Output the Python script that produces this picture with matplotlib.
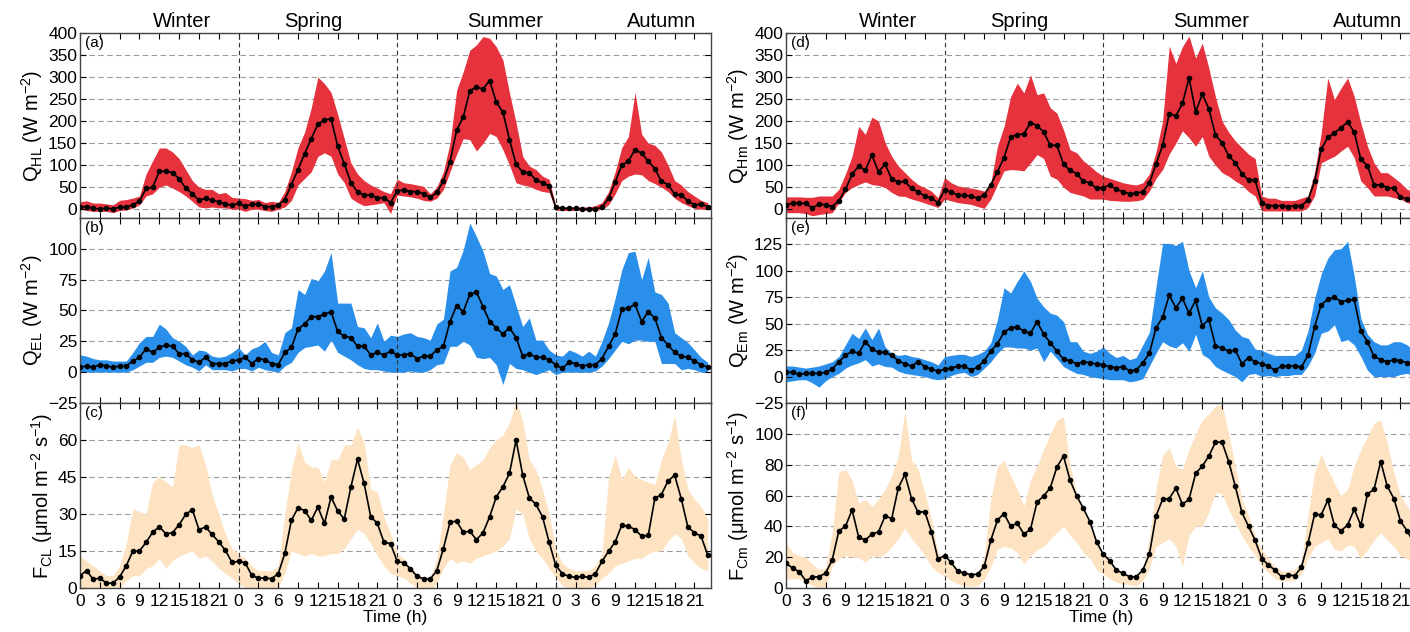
import matplotlib
matplotlib.use('Agg')
import matplotlib.pyplot as plt
import numpy as np

plt.rcParams['font.family'] = ['Liberation Sans', 'DejaVu Sans']
plt.rcParams['mathtext.default'] = 'regular'

hours = np.arange(96)
seasons = ['Winter', 'Spring', 'Summer', 'Autumn']
season_x = [15.5, 35.3, 64.3, 88.0]
hour_ticks = np.arange(0, 96, 3)
hour_labels = [str(h % 24) for h in hour_ticks]

# ---- (a) Q_HL ----
qhl_mean = [5, 6, 2, 0, 3, 0, 5, 5, 10, 18, 47, 50, 86, 86, 83, 69, 48, 35, 20, 25, 20, 17, 12, 9,
            13, 7, 11, 12, 6, 6, 9, 22, 56, 90, 126, 160, 193, 203, 205, 143, 103, 60, 39, 32, 32, 26, 26, 15,
            41, 44, 40, 40, 35, 27, 38, 64, 108, 179, 209, 269, 277, 273, 292, 243, 221, 158, 102, 84, 83, 66, 60, 53,
            4, 2, 2, 2, 0, 0, 0, 4, 25, 62, 100, 109, 135, 127, 109, 92, 63, 56, 34, 32, 19, 9, 12, 6]
qhl_hi = [17, 19, 14, 14, 12, 10, 20, 22, 25, 30, 80, 110, 139, 139, 130, 115, 90, 65, 50, 45, 45, 35, 38, 27,
          25, 24, 20, 22, 15, 18, 15, 40, 85, 140, 175, 230, 300, 285, 265, 215, 160, 105, 80, 65, 55, 48, 40, 35,
          68, 60, 58, 55, 52, 35, 50, 85, 150, 270, 312, 361, 373, 392, 388, 369, 339, 264, 196, 120, 98, 90, 75, 68,
          8, 5, 5, 5, 5, 5, 8, 15, 40, 85, 140, 165, 265, 170, 150, 145, 130, 100, 65, 55, 40, 30, 20, 15]
qhl_lo = [0, -3, -5, -5, -5, -8, -3, -2, 3, 10, 30, 35, 50, 55, 48, 40, 30, 18, 5, 3, 5, 3, 3, 0,
          0, -5, 0, 0, -3, -5, 0, 5, 20, 55, 70, 85, 120, 128, 120, 80, 60, 25, 15, 8, 10, 12, 15, -10,
          32, 30, 28, 25, 20, 18, 25, 45, 85, 125, 160, 158, 132, 150, 172, 165, 135, 100, 60, 55, 52, 45, 40, 38,
          -2, -3, -3, -3, -3, -3, -3, 0, 10, 35, 65, 75, 80, 78, 65, 58, 50, 40, 25, 15, 8, 2, 0, 0]

# ---- (b) Q_EL ----
qel_mean = [4, 5, 4, 6, 5, 4, 5, 5, 9, 12, 19, 16, 20, 22, 21, 15, 15, 10, 8, 12, 7, 7, 7, 9,
            10, 12, 7, 11, 10, 7, 6, 16, 20, 35, 39, 45, 45, 47, 49, 33, 29, 28, 21, 21, 14, 16, 14, 17,
            14, 14, 15, 11, 13, 13, 18, 21, 41, 54, 49, 63, 65, 53, 41, 36, 31, 36, 28, 13, 15, 12, 12, 10,
            6, 3, 8, 7, 5, 6, 6, 11, 21, 31, 51, 52, 55, 41, 49, 44, 28, 22, 16, 13, 12, 9, 6, 4]
qel_hi = [14, 13, 11, 10, 10, 9, 9, 9, 16, 24, 29, 29, 39, 35, 28, 25, 21, 14, 18, 17, 13, 12, 13, 16,
          20, 14, 19, 21, 25, 16, 14, 32, 36, 67, 63, 76, 74, 82, 97, 56, 56, 56, 37, 36, 28, 40, 25, 30,
          29, 31, 32, 29, 28, 26, 39, 43, 82, 85, 99, 121, 110, 98, 80, 78, 67, 71, 54, 37, 44, 26, 26, 18,
          14, 13, 18, 16, 13, 17, 13, 25, 40, 60, 83, 97, 98, 75, 93, 65, 63, 56, 32, 28, 24, 18, 12, 8]
qel_lo = [0, 0, 0, 0, 0, 0, 0, 0, 2, 5, 8, 8, 12, 13, 12, 9, 6, 4, 1, 6, 2, 2, 2, 1,
          3, 3, 1, 4, 2, 1, 0, 5, 8, 16, 20, 21, 22, 17, 26, 16, 13, 10, 6, 3, 2, 2, 1, 0,
          0, 0, 1, 0, 0, 2, 6, 7, 21, 21, 25, 22, 12, 11, 12, 6, -10, 7, 3, 2, 0, -2, 0, 2,
          -2, 0, 0, 0, 0, 0, 1, 5, 11, 18, 25, 23, 26, 26, 25, 25, 7, 7, 7, 2, 3, 2, 0, 0]

# ---- (c) F_CL ----
fcl_mean = [5, 7, 3.5, 4, 2, 2, 4.5, 9, 15, 15, 18.5, 22.6, 24.8, 22, 22.4, 25.7, 29.8, 31.8, 23.7, 24.7, 21.7, 18.7, 15.3, 10.4,
            10.8, 10.2, 5.1, 4, 4, 3.8, 5.8, 14, 27.5, 32.5, 31.4, 27.4, 32.8, 26.2, 36.9, 31.2, 28, 41, 52.2, 42.4, 28.9, 26.2, 18.6, 18,
            10.8, 10.2, 7.9, 4.7, 3.7, 3.7, 7, 16, 26.7, 27.1, 22.6, 23, 19.6, 22.4, 28.9, 36.9, 41, 46.5, 60, 45.8, 36.6, 33.9, 28.9, 18.6,
            9.2, 5.8, 4.7, 4.3, 4.7, 4.3, 5.8, 10.8, 14.9, 18.7, 25.5, 25, 23.7, 21, 21.3, 36.3, 37.9, 43.4, 45.7, 36.2, 24.7, 22.4, 21, 13.3]
fcl_hi = [13, 11, 9, 7, 5, 5, 9, 18, 32, 31, 30, 43, 45, 43, 41, 58, 58, 57, 58, 50, 38, 30, 22, 16,
          14, 12, 9, 7, 7, 7, 9, 30, 48, 59, 51, 49, 49, 43, 52, 52, 58, 58, 65, 59, 40, 39, 29, 22,
          14, 12, 8, 6, 4, 4, 12, 30, 50, 55, 53, 48, 50, 52, 57, 60, 62, 67, 76, 68, 52, 48, 40, 30,
          16, 10, 8, 7, 7, 7, 9, 14, 45, 54, 44, 49, 45, 44, 43, 42, 52, 59, 70, 52, 40, 36, 33, 28]
fcl_lo = [0, 0, 0, 0, -1, -1, 0, 3, 5, 5, 8, 9, 12, 8, 11, 13, 14, 15, 12, 13, 11, 8, 6, 4,
          2, 0, -1, -2, -2, -2, 0, 6, 15, 14, 13, 14, 13, 13, 14, 14, 16, 20, 24, 22, 18, 13, 9, 6,
          5, 4, 2, 0, -1, -1, 2, 8, 12, 10, 11, 10, 12, 13, 14, 15, 17, 20, 32, 30, 20, 15, 12, 8,
          4, 1, 0, 0, 0, 0, 1, 4, 6, 9, 10, 11, 12, 12, 14, 15, 15, 19, 22, 20, 13, 10, 8, 7]

# ---- (d) Q_Hm ----
qhm_mean = [10, 13.5, 13.5, 13, 2, 12, 10, 6, 19, 45, 79, 98, 88, 123, 85, 102, 68, 62, 63, 47, 39, 30, 25, 15,
            44, 39, 32, 32, 29, 25, 32, 56, 85, 117, 164, 169, 171, 196, 190, 175, 145, 145, 102, 88, 81, 63, 60, 47,
            49, 55, 45, 40, 35, 36, 40, 59, 103, 145, 217, 212, 240, 298, 221, 261, 228, 168, 151, 121, 105, 81, 66, 66,
            14, 8, 8, 8, 6, 8, 8, 21, 63, 136, 163, 173, 185, 198, 175, 113, 99, 55, 55, 49, 47, 28, 23, 19]
qhm_hi = [28, 28, 28, 27, 27, 30, 30, 30, 45, 80, 120, 188, 170, 209, 200, 151, 120, 98, 83, 68, 56, 49, 41, 26,
          72, 60, 53, 50, 48, 45, 41, 60, 143, 188, 256, 286, 264, 305, 260, 264, 230, 218, 180, 135, 128, 110, 98, 85,
          75, 70, 65, 60, 57, 55, 60, 80, 130, 200, 370, 331, 369, 393, 343, 377, 320, 255, 200, 175, 155, 140, 125, 115,
          30, 25, 25, 20, 20, 20, 25, 30, 83, 173, 298, 249, 275, 298, 256, 196, 143, 105, 83, 83, 72, 60, 45, 40]
qhm_lo = [-8, -8, -8, -10, -15, -12, -10, -8, 15, 38, 49, 56, 62, 56, 54, 49, 38, 30, 29, 23, 19, 14, 9, 4,
          23, 19, 15, 13, 11, 6, 2, 23, 56, 87, 90, 89, 87, 105, 124, 115, 75, 68, 50, 38, 34, 30, 23, 23,
          23, 20, 19, 18, 18, 19, 22, 41, 70, 90, 125, 150, 178, 162, 143, 165, 120, 100, 83, 75, 64, 55, 40, 30,
          -4, -4, -4, -4, -4, -4, -4, 4, 30, 105, 113, 120, 132, 143, 117, 64, 49, 30, 30, 30, 26, 23, 15, 10]

# ---- (e) Q_Em ----
qem_mean = [4, 4, 2, 3, 3, 3, 4, 7, 14, 20, 24, 22, 33, 26, 23, 23, 20, 15, 12, 10, 14, 9.5, 7, 5,
            7, 8, 10, 10, 6, 9, 15, 24, 31, 42, 46, 47, 43, 41, 52, 40, 32, 24, 16.5, 15, 12, 14, 13, 12,
            11, 9.5, 8, 9.5, 5.4, 6, 13, 22, 46, 56, 77, 65, 74, 60, 72, 48, 54, 29, 27, 24, 25, 12, 18, 14,
            12, 10, 6, 10, 10, 10, 9, 20, 47, 68, 73, 75, 71, 72, 73, 43, 33, 19, 16, 14, 16, 15, 13, 11]
qem_hi = [10, 10, 9, 8, 9, 10, 12, 14, 19, 30, 41, 36, 46, 35, 46, 28, 22, 20, 21, 19, 18, 16, 14, 11,
          19, 20, 21, 21, 19, 21, 24, 32, 54, 84, 79, 90, 100, 90, 74, 66, 60, 58, 52, 33, 33, 24, 22, 24,
          28, 22, 18, 20, 16, 18, 30, 42, 85, 126, 126, 124, 128, 100, 84, 100, 75, 65, 60, 54, 44, 38, 36, 26,
          25, 22, 20, 20, 20, 20, 25, 43, 74, 97, 112, 120, 121, 128, 95, 55, 40, 33, 30, 30, 33, 33, 30, 25]
qem_lo = [-5, -4, -3, -3, -6, -10, -4, 0, 3, 8, 11, 13, 16, 10, 12, 9.5, 9, 5, 3, 2, 1, 0, -2, -3,
          -2, 1, 3, 4, 0, 2, 8, 14, 22, 28, 28, 27, 27, 25, 27, 14, 24, 17, 9.5, 6, 3, 2, 0, -1,
          -2, -3, -3, -3, -5, -4, -2, 10, 22, 33, 29, 27, 32, 24, 40, 21, 17, 9.5, 6, 3, 0, -5, 2, 3,
          0, 1, 0, 1, 1, 2, 2, 10, 22, 41, 43, 49, 33, 35, 30, 19, 6, 0, 0, 0, 0, 2, 3, 1]

# ---- (f) F_Cm ----
fcm_mean = [16, 13, 10.5, 4.7, 7, 7.3, 9.7, 18.3, 37, 40, 50.6, 33, 31, 35, 36.4, 46.8, 45, 65, 73.7, 58, 49, 49.6, 36.6, 18.8,
            21, 16.6, 10.8, 9.7, 8.6, 9, 14, 31, 44, 48.3, 40, 42, 35, 38, 55.8, 59.7, 65, 78.4, 85.6, 69.8, 59.7, 51.7, 43, 30,
            22, 17.7, 11.6, 9.5, 7.3, 7.3, 11.6, 22, 46.8, 57.5, 58, 64.7, 54.3, 57.5, 74.4, 79, 85.6, 94.6, 94.6, 82, 66, 49, 40, 31,
            19, 15, 11.6, 7.3, 8.4, 8, 13.4, 29, 47.8, 47.4, 57, 40.7, 37, 41, 51, 40.7, 61, 64, 82, 66, 58, 43.5, 37, 29.5]
fcm_hi = [29.5, 23, 21, 20, 15.5, 12, 13, 36, 75, 77, 70, 55, 57.5, 53, 57.5, 64, 73, 85.6, 115, 83, 77, 62, 45, 23,
          19, 16.6, 12, 10, 9, 9, 21, 57.5, 79, 83, 73, 64, 53, 70, 79, 90, 100, 109, 111, 79, 62, 51, 40, 32,
          21, 17.7, 12, 9.5, 7.3, 7.3, 11.6, 32, 64, 86, 91, 79, 77, 90, 100, 109, 113, 118, 119, 100, 79, 57.5, 47, 34,
          25, 19, 14, 11, 11, 12, 17, 47, 75, 87, 77, 68, 60, 64, 79, 90, 98, 107, 109, 94, 75, 60, 53, 47]
fcm_lo = [6, 6, 6, 3.7, 1.5, 0.4, 1, 14, 19, 21, 20, 20, 16.6, 21, 20, 22, 27, 32, 39, 32, 27, 21, 14, 10,
          8, 4.7, 2.6, 1.5, 1, 1.5, 6, 14, 25, 27, 26, 23, 15.5, 21, 25, 27, 32, 36, 40, 34, 29.5, 23, 19, 12,
          9, 6, 3.7, 2.6, 2, 1.5, 4.7, 13, 27, 29.5, 32, 27, 14, 34, 40, 40, 49, 62, 61, 51, 42, 34, 27, 21,
          14, 10, 6, 4.7, 4.7, 5, 9, 19, 27, 29.5, 32, 25, 24, 28, 27, 19, 25, 31, 36, 31, 27, 21, 19, 16.6]

red = '#e5323c'
blue = '#2a8fea'
tan = '#fde3c2'

panels = [
    # column, row, mean, lo, hi, colour, ylim, yticks, ylabel, tag
    (0, 0, qhl_mean, qhl_lo, qhl_hi, red, (-20, 400), np.arange(0, 401, 50), r'Q$_{HL}$ (W m$^{-2}$)', '(a)'),
    (0, 1, qel_mean, qel_lo, qel_hi, blue, (-25, 125), np.arange(-25, 101, 25), r'Q$_{EL}$ (W m$^{-2}$)', '(b)'),
    (0, 2, fcl_mean, fcl_lo, fcl_hi, tan, (0, 75), np.arange(0, 61, 15), r'F$_{CL}$ (μmol m$^{-2}$ s$^{-1}$)', '(c)'),
    (1, 0, qhm_mean, qhm_lo, qhm_hi, red, (-20, 400), np.arange(0, 401, 50), r'Q$_{Hm}$ (W m$^{-2}$)', '(d)'),
    (1, 1, qem_mean, qem_lo, qem_hi, blue, (-25, 150), np.arange(-25, 126, 25), r'Q$_{Em}$ (W m$^{-2}$)', '(e)'),
    (1, 2, fcm_mean, fcm_lo, fcm_hi, tan, (0, 120), np.arange(0, 101, 20), r'F$_{Cm}$ (μmol m$^{-2}$ s$^{-1}$)', '(f)'),
]

W, H = 1410.0, 632.0
col_left = [80, 786]
row_top = [33, 218, 403]
ax_w, ax_h = 631, 185

fig = plt.figure(figsize=(14.1, 6.32), dpi=100)

for col, row, mean, lo, hi, colour, ylim, yticks, ylabel, tag in panels:
    ax = fig.add_axes([col_left[col] / W, 1 - (row_top[row] + ax_h) / H, ax_w / W, ax_h / H])
    for y in yticks:
        ax.axhline(y, color='#9c9c9c', ls=(0, (5, 3)), lw=0.8, zorder=0)
    ax.fill_between(hours, lo, hi, color=colour, lw=0, zorder=1)
    for x in (24, 48, 72):
        ax.axvline(x, color='#333333', ls=(0, (4, 3)), lw=0.8, zorder=2)
    ax.plot(hours, mean, color='black', lw=1.2, marker='o', ms=3, zorder=3)
    ax.set_xlim(0, 95.5)
    ax.set_ylim(ylim)
    ax.set_yticks(yticks)
    ax.set_xticks(hour_ticks)
    ax.tick_params(direction='in', top=True, right=True, length=4, labelsize=12.5, pad=2)
    if row == 2:
        ax.set_xticklabels(hour_labels)
        ax.tick_params(axis='x', pad=4)
        ax.set_xlabel('Time (h)', fontsize=12.5, labelpad=1)
    else:
        ax.set_xticklabels([])
    for s in ax.spines.values():
        s.set_color('#444444')
        s.set_linewidth(1.0)
    ax.set_ylabel(ylabel, fontsize=14.5, labelpad=2)
    ax.text(0.008, 0.985, tag, transform=ax.transAxes, va='top', ha='left', fontsize=11)
    if row == 0:
        for name, sx in zip(seasons, season_x):
            ax.text(sx, 1.01, name, transform=ax.get_xaxis_transform(),
                    ha='center', va='bottom', fontsize=14.5)

plt.savefig('out.png', dpi=100)
